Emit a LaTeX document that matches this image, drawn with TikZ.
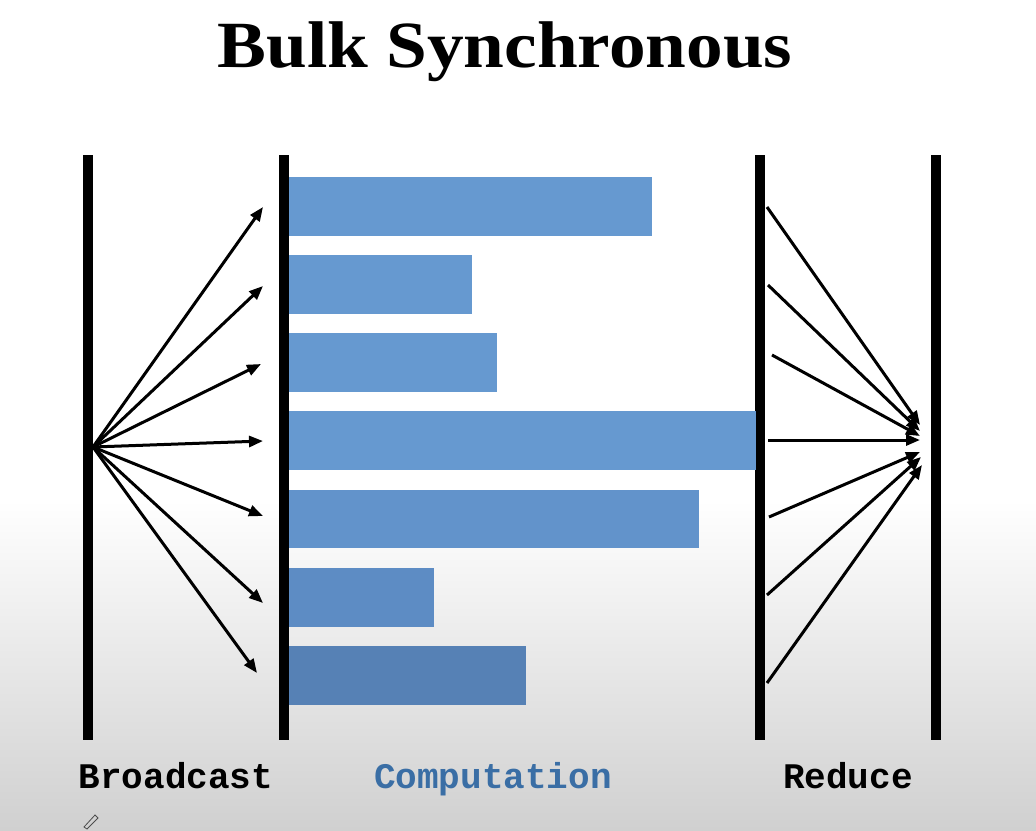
\documentclass[tikz,border=0pt]{standalone}
\usepackage{fontspec}
\setmainfont{Liberation Serif}
\newfontfamily\monob{Liberation Mono}
\usetikzlibrary{arrows.meta}
\definecolor{barblue}{RGB}{102,153,208}
\definecolor{barblueb}{RGB}{98,147,203}
\definecolor{barbluec}{RGB}{93,140,196}
\definecolor{barblued}{RGB}{86,129,181}
\definecolor{labblue}{RGB}{58,110,165}
\begin{document}
\begin{tikzpicture}[x=1pt,y=-1pt,
  sync/.style={line width=10pt},
  compbar/.style={draw=none},
  arr/.style={line width=3pt,-{Triangle[length=14pt,width=11pt]}},
  lab/.style={font=\monob\bfseries\fontsize{36}{40}\selectfont,anchor=base}]
\useasboundingbox (0,0) rectangle (1036,830);
\fill[white] (0,0) rectangle (1036,830);
\shade[top color=white,bottom color={rgb,255:red,208;green,208;blue,208}] (0,500) rectangle (1036,830);
% title
\node[xscale=1.11,anchor=base] (title) at (505,67) {\bfseries\fontsize{66}{70}\selectfont Bulk Synchronous};
% sync lines
\draw[sync] (88,155) -- (88,740);
\draw[sync] (283.5,155) -- (283.5,740);
\draw[sync] (760,155) -- (760,740);
\draw[sync] (936,155) -- (936,740);
% computation bars
\fill[compbar,fill=barblue] (289,177) rectangle (652,236);
\fill[compbar,fill=barblue] (289,255) rectangle (472,314);
\fill[compbar,fill=barblue] (289,333) rectangle (497,392);
\fill[compbar,fill=barblue] (289,411) rectangle (756,470);
\fill[compbar,fill=barblueb] (289,490) rectangle (699,548);
\fill[compbar,fill=barbluec] (289,568) rectangle (434,627);
\fill[compbar,fill=barblued] (289,646) rectangle (526,705);
% broadcast
\coordinate (src) at (93,447);
\coordinate (b1) at (263,207);
\coordinate (b2) at (263,286);
\coordinate (b3) at (261,364);
\coordinate (b4) at (263,441);
\coordinate (b5) at (263,516);
\coordinate (b6) at (263,603);
\coordinate (b7) at (257,673);
\foreach \t in {b1,b2,b3,b4,b5,b6,b7} \draw[arr] (src) -- (\t);
% reduce
\coordinate (r1) at (767,207);
\coordinate (r2) at (768,285);
\coordinate (r3) at (772,355);
\coordinate (r4) at (768,440);
\coordinate (r5) at (769,517);
\coordinate (r6) at (767,595);
\coordinate (r7) at (767,683);
\coordinate (t1) at (920,425);
\coordinate (t2) at (920,431);
\coordinate (t3) at (920,436);
\coordinate (t4) at (920,440);
\coordinate (t5) at (920,452);
\coordinate (t6) at (921,457);
\coordinate (t7) at (922,465);
\foreach \i in {1,...,7} \draw[arr] (r\i) -- (t\i);
% labels
\node[lab] (lbroad) at (176,788) {Broadcast};
\node[lab,text=labblue] (lcomp) at (493,788) {Computation};
\node[lab] (lred) at (848,788) {Reduce};
% pencil cursor
\draw[line width=0.8pt,gray!60!black] (84,827) -- (95,815) -- (98,818) -- (87,829) -- cycle;
\end{tikzpicture}
\end{document}
